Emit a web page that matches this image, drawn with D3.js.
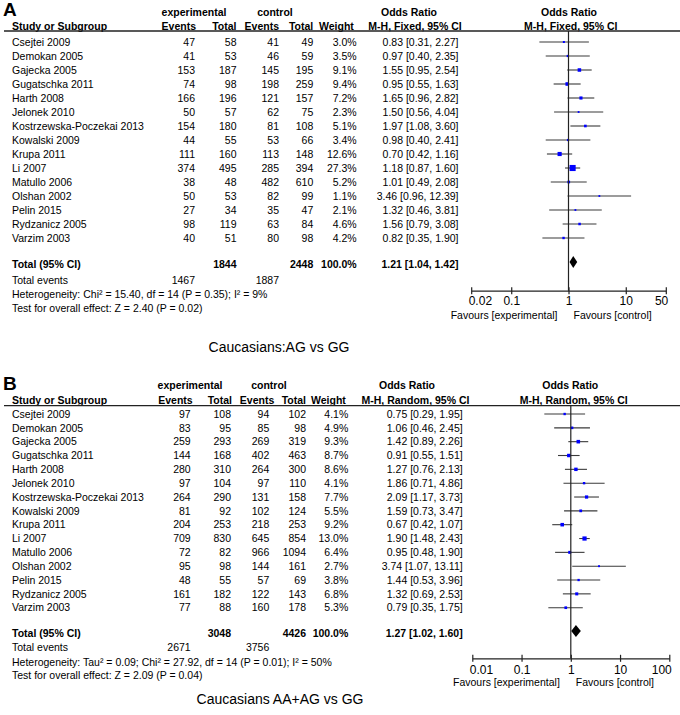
<!DOCTYPE html>
<html><head><meta charset="utf-8">
<script src="https://cdn.jsdelivr.net/npm/d3@7"></script>
<style>
body{margin:0;background:#fff;}
svg{display:block;font-family:"Liberation Sans",Arial,sans-serif;}
</style></head>
<body><svg id="c" width="680" height="715"></svg>
<script>
const studies = ["Csejtei 2009","Demokan 2005","Gajecka 2005","Gugatschka 2011","Harth 2008","Jelonek 2010","Kostrzewska-Poczekai 2013","Kowalski 2009","Krupa 2011","Li 2007","Matullo 2006","Olshan 2002","Pelin 2015","Rydzanicz 2005","Varzim 2003"];

// Panel A: Caucasians AG vs GG (M-H, Fixed)
const aExpEvents  = [47,41,153,74,166,50,154,44,111,374,38,50,27,98,40];
const aExpTotal   = [58,53,187,98,196,57,180,55,160,495,48,53,34,119,51];
const aCtrlEvents = [41,46,145,198,121,62,81,53,113,285,482,82,35,63,80];
const aCtrlTotal  = [49,59,195,259,157,75,108,66,148,394,610,99,47,84,98];
const aWeight     = [3.0,3.5,9.1,9.4,7.2,2.3,5.1,3.4,12.6,27.3,5.2,1.1,2.1,4.6,4.2];
const aOR         = [0.83,0.97,1.55,0.95,1.65,1.50,1.97,0.98,0.70,1.18,1.01,3.46,1.32,1.56,0.82];
const aLow        = [0.31,0.40,0.95,0.55,0.96,0.56,1.08,0.40,0.42,0.87,0.49,0.96,0.46,0.79,0.35];
const aHigh       = [2.27,2.35,2.54,1.63,2.82,4.04,3.60,2.41,1.16,1.60,2.08,12.39,3.81,3.08,1.90];
const aTotal      = {expTotal:1844, ctrlTotal:2448, weight:100.0, or:1.21, low:1.04, high:1.42, expEvents:1467, ctrlEvents:1887};
const aTicks      = [0.02,0.1,1,10,50];
const aHet        = "Heterogeneity: Chi\u00b2 = 15.40, df = 14 (P = 0.35); I\u00b2 = 9%";
const aTest       = "Test for overall effect: Z = 2.40 (P = 0.02)";
const aMethod     = "M-H, Fixed, 95% CI";
const aCaption    = "Caucasians:AG vs GG";

// Panel B: Caucasians AA+AG vs GG (M-H, Random)
const bExpEvents  = [97,83,259,144,280,97,264,81,204,709,72,95,48,161,77];
const bExpTotal   = [108,95,293,168,310,104,290,92,253,830,82,98,55,182,88];
const bCtrlEvents = [94,85,269,402,264,97,131,102,218,645,966,144,57,122,160];
const bCtrlTotal  = [102,98,319,463,300,110,158,124,253,854,1094,161,69,143,178];
const bWeight     = [4.1,4.9,9.3,8.7,8.6,4.1,7.7,5.5,9.2,13.0,6.4,2.7,3.8,6.8,5.3];
const bOR         = [0.75,1.06,1.42,0.91,1.27,1.86,2.09,1.59,0.67,1.90,0.95,3.74,1.44,1.32,0.79];
const bLow        = [0.29,0.46,0.89,0.55,0.76,0.71,1.17,0.73,0.42,1.48,0.48,1.07,0.53,0.69,0.35];
const bHigh       = [1.95,2.45,2.26,1.51,2.13,4.86,3.73,3.47,1.07,2.43,1.90,13.11,3.96,2.53,1.75];
const bTotal      = {expTotal:3048, ctrlTotal:4426, weight:100.0, or:1.27, low:1.02, high:1.60, expEvents:2671, ctrlEvents:3756};
const bTicks      = [0.01,0.1,1,10,100];
const bHet        = "Heterogeneity: Tau\u00b2 = 0.09; Chi\u00b2 = 27.92, df = 14 (P = 0.01); I\u00b2 = 50%";
const bTest       = "Test for overall effect: Z = 2.09 (P = 0.04)";
const bMethod     = "M-H, Random, 95% CI";
const bCaption    = "Caucasians AA+AG vs GG";

const svg = d3.select("#c");
const f2 = d3.format(".2f"), f1 = d3.format(".1f");
const FS = 10.5;

function panel(cfg, d) {
  const g = svg.append("g");
  const rows = studies.map((s,i)=>({name:s, ee:d.ee[i], et:d.et[i], ce:d.ce[i], ct:d.ct[i], w:d.w[i], or:d.or[i], lo:d.lo[i], hi:d.hi[i]}));
  const y = d3.scaleLinear().domain([0, studies.length-1]).range([cfg.rowY0, cfg.rowY1]);
  const x = d3.scaleLog().domain(d3.extent(d.ticks)).range(cfg.xRange);
  const side = d3.scaleSqrt().domain([0, 30]).range([0, 6.4]);

  const txt = (t, xx, yy, anchor, opts={}) => g.append("text")
      .attr("x", xx).attr("y", yy).attr("dy","0.35em")
      .attr("text-anchor", anchor)
      .attr("font-size", opts.size || FS)
      .attr("font-weight", opts.bold ? "bold" : "normal")
      .attr("fill", "#000").text(t);

  txt(cfg.letter, 3, cfg.letterY, "start", {size:19, bold:true});
  txt("experimental", cfg.h1exp, cfg.h1Y, "middle", {bold:true});
  txt("control", cfg.h1ctrl, cfg.h1Y, "middle", {bold:true});
  txt("Odds Ratio", cfg.h1or, cfg.h1Y, "middle", {bold:true});
  txt("Odds Ratio", cfg.h1or2, cfg.h1Y, "middle", {bold:true});
  txt("Study or Subgroup", 12, cfg.h2Y, "start", {bold:true});
  txt("Events", cfg.cEE + cfg.hOff[0], cfg.h2Y, "end", {bold:true});
  txt("Total", cfg.cET + cfg.hOff[1], cfg.h2Y, "end", {bold:true});
  txt("Events", cfg.cCE + cfg.hOff[2], cfg.h2Y, "end", {bold:true});
  txt("Total", cfg.cCT + cfg.hOff[3], cfg.h2Y, "end", {bold:true});
  txt("Weight", cfg.hW, cfg.h2Y, "start", {bold:true});
  txt(d.method, cfg.h2or, cfg.h2Y, "middle", {bold:true});
  txt(d.method, cfg.h2or2, cfg.h2Y, "middle", {bold:true});
  g.append("line").attr("x1",4).attr("x2",680).attr("y1",cfg.lineY).attr("y2",cfg.lineY)
    .attr("stroke","#222").attr("stroke-width",1.3);

  const r = g.selectAll("g.row").data(rows).join("g").attr("class","row");
  r.append("text").attr("x",12).attr("y",(_,i)=>y(i)).attr("dy","0.35em").attr("font-size",FS).text(v=>v.name);
  const num = (key, xx, fmt) => r.append("text").attr("x",xx).attr("y",(_,i)=>y(i)).attr("dy","0.35em")
      .attr("text-anchor","end").attr("font-size",FS).text(v=>fmt(v[key]));
  num("ee", cfg.cEE, String); num("et", cfg.cET, String);
  num("ce", cfg.cCE, String); num("ct", cfg.cCT, String);
  num("w", cfg.cW, v=>f1(v)+"%");
  r.append("text").attr("x",cfg.cOR).attr("y",(_,i)=>y(i)).attr("dy","0.35em")
    .attr("text-anchor","end").attr("font-size",FS)
    .text(v=>`${f2(v.or)} [${f2(v.lo)}, ${f2(v.hi)}]`);

  g.append("line").attr("x1",x(1)).attr("x2",x(1)).attr("y1",cfg.lineY).attr("y2",cfg.axisY)
    .attr("stroke","#222").attr("stroke-width",1.2);

  r.append("line").attr("x1",v=>x(v.lo)).attr("x2",v=>x(v.hi))
    .attr("y1",(_,i)=>y(i)).attr("y2",(_,i)=>y(i))
    .attr("stroke","#3a3a3a").attr("stroke-width",1.1);
  r.append("rect")
    .attr("x",v=>x(v.or)-Math.max(1.8,side(v.w))/2)
    .attr("y",(v,i)=>y(i)-Math.max(1.8,side(v.w))/2)
    .attr("width",v=>Math.max(1.8,side(v.w))).attr("height",v=>Math.max(1.8,side(v.w)))
    .attr("fill","#0000ff");

  const T = d.total;
  txt("Total (95% CI)", 12, cfg.totY, "start", {bold:true});
  txt(String(T.expTotal), cfg.cET, cfg.totY, "end", {bold:true});
  txt(String(T.ctrlTotal), cfg.cCT, cfg.totY, "end", {bold:true});
  txt(f1(T.weight)+"%", cfg.cW, cfg.totY, "end", {bold:true});
  txt(`${f2(T.or)} [${f2(T.low)}, ${f2(T.high)}]`, cfg.cOR, cfg.totY, "end", {bold:true});
  const dy = cfg.diaY, hh = 6;
  g.append("path").attr("d",`M${x(T.low)},${dy} L${x(T.or)},${dy-hh} L${x(T.high)},${dy} L${x(T.or)},${dy+hh} Z`)
    .attr("fill","#000");

  txt("Total events", 12, cfg.evY, "start");
  txt(String(T.expEvents), cfg.cEE, cfg.evY, "end");
  txt(String(T.ctrlEvents), cfg.cCE, cfg.evY, "end");
  txt(d.het, 12, cfg.hetY, "start");
  txt(d.test, 12, cfg.testY, "start");

  const axis = d3.axisBottom(x).tickValues(d.ticks).tickSize(0).tickFormat(t=>String(t));
  const ag = g.append("g").attr("transform",`translate(0,${cfg.axisY})`).call(axis);
  ag.select(".domain").attr("stroke","#222").attr("stroke-width",1.2);
  ag.selectAll(".tick").append("line").attr("y1",-3.5).attr("y2",3.5).attr("stroke","#222").attr("stroke-width",1.2);
  ag.selectAll(".tick text").attr("y", cfg.tickLabY - cfg.axisY).attr("dy","0.35em")
    .attr("font-size",12).attr("font-family","Liberation Sans, Arial, sans-serif").attr("fill","#000")
    .attr("text-anchor",(t,i)=> i===0 ? "start" : (i===d.ticks.length-1 ? "end" : "middle"))
    .attr("dx",(t,i)=> i===0 ? -3 : (i===d.ticks.length-1 ? 2 : 0));
  txt("Favours [experimental]", x(1)-11, cfg.favY, "end");
  txt("Favours [control]", x(1)+5, cfg.favY, "start");

  txt(d.caption, cfg.capX, cfg.capY, "middle", {size:14});
}

panel({letter:"A", letterY:9, h1Y:12, h2Y:26.5, lineY:31, rowY0:42, rowY1:238,
  cEE:195, cET:236.5, cCE:279, cCT:313.3, cW:356.7, cOR:458.5, hOff:[1,0,0,0], hW:319,
  h1exp:194, h1ctrl:275, h1or:409, h1or2:569, h2or:415, h2or2:570.8,
  xRange:[471.2,665.8], totY:264.3, diaY:262, evY:280, hetY:294.7, testY:308.7,
  axisY:290.7, tickLabY:300.5, favY:315.7, capX:279, capY:347.5},
  {ee:aExpEvents, et:aExpTotal, ce:aCtrlEvents, ct:aCtrlTotal, w:aWeight, or:aOR, lo:aLow, hi:aHigh,
   total:aTotal, ticks:aTicks, het:aHet, test:aTest, method:aMethod, caption:aCaption});

panel({letter:"B", letterY:383, h1Y:385.7, h2Y:400, lineY:405.7, rowY0:414, rowY1:607.7,
  cEE:190.7, cET:231, cCE:269.3, cCT:306, cW:348.3, cOR:462.7, hOff:[2,1,5,0], hW:311,
  h1exp:190, h1ctrl:269, h1or:407, h1or2:570.3, h2or:415.5, h2or2:573.7,
  xRange:[472.3,669.3], totY:633.3, diaY:631, evY:647.7, hetY:662.3, testY:675.7,
  axisY:658.3, tickLabY:669.5, favY:682.7, capX:280, capY:699},
  {ee:bExpEvents, et:bExpTotal, ce:bCtrlEvents, ct:bCtrlTotal, w:bWeight, or:bOR, lo:bLow, hi:bHigh,
   total:bTotal, ticks:bTicks, het:bHet, test:bTest, method:bMethod, caption:bCaption});
</script>
</body></html>
